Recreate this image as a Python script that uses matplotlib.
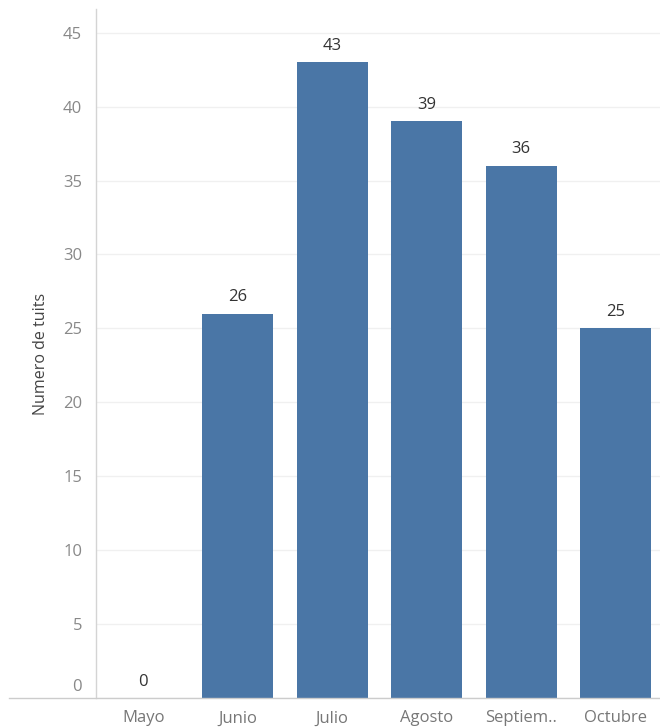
import matplotlib.pyplot as plt
from matplotlib.lines import Line2D
from matplotlib.transforms import ScaledTranslation

plt.rcParams['font.family'] = ['Open Sans', 'DejaVu Sans']

meses = ["Mayo", "Junio", "Julio", "Agosto", "Septiem..", "Octubre"]
tuits = [0, 26, 43, 39, 36, 25]

fig = plt.figure(figsize=(6.6, 7.27), dpi=100)
ax = fig.add_axes([96/660, 1 - 698/727, (663 - 96)/660, (698 - 9)/727])

x = list(range(len(meses)))
ax.bar(x, tuits, width=0.75, color="#4a76a6", zorder=2)
for xi, v in zip(x, tuits):
    ax.annotate(str(v), (xi, v), xytext=(0, 6), textcoords="offset points",
                ha="center", va="bottom", fontsize=12, color="#333333")

ax.set_xlim(-0.5, 5.5)
ax.set_ylim(0, 46.6)
ax.set_yticks(range(0, 50, 5))
ax.set_xticks(x)
ax.set_xticklabels(meses)
ax.tick_params(axis="both", length=0, labelsize=12, labelcolor="#888888")
ax.tick_params(axis="x", pad=9, labelcolor="#777777")
ax.tick_params(axis="y", pad=10)
ax.yaxis.grid(True, color="#f0f0f0", linewidth=1, zorder=0)
ax.set_axisbelow(True)

# bottom tick label sits a bit above its gridline
fig.canvas.draw()
lbl0 = ax.get_yticklabels()[0]
lbl0.set_transform(lbl0.get_transform() + ScaledTranslation(0, 0.13, fig.dpi_scale_trans))

for s in ["top", "right", "bottom"]:
    ax.spines[s].set_visible(False)
ax.spines["left"].set_color("#d4d4d4")
ax.spines["left"].set_linewidth(1)

ax.set_ylabel("Numero de tuits", fontsize=11.5, color="#444444", labelpad=10)

# base line running across the label area
fig.add_artist(Line2D([9/660, 1], [1 - 698/727, 1 - 698/727],
                      transform=fig.transFigure, color="#cccccc", linewidth=1))

fig.savefig("out.png", dpi=100)
